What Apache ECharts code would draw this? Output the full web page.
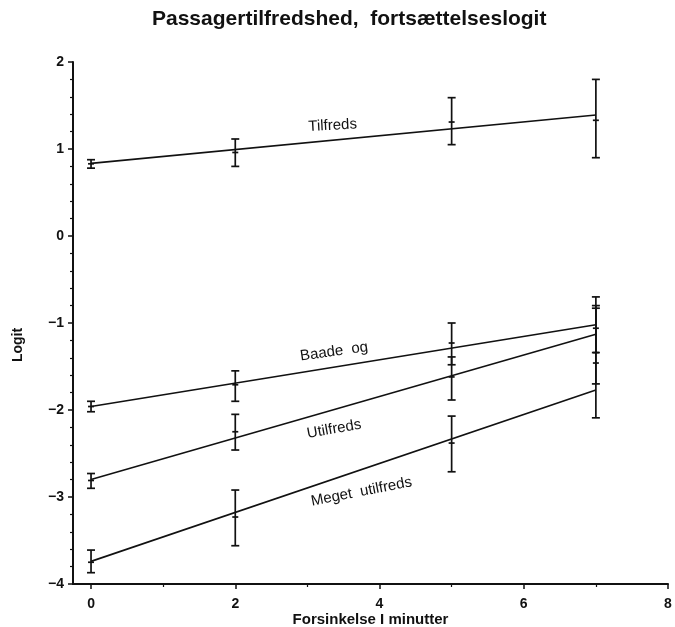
<!DOCTYPE html>
<html>
<head>
<meta charset="utf-8">
<script src="https://cdn.jsdelivr.net/npm/echarts@6/dist/echarts.min.js"></script>
<style>
  html, body { margin: 0; background: #fff; }
  #chart { width: 675px; height: 627px; }
</style>
</head>
<body>
<div id="chart"></div>
<script>
  // forsinkelse (minutter) hvor der er maalt
  const delays = [0, 2, 5, 7]
  const fitX = [0, 7]
  const xTicks = [0, 2, 4, 6, 8]
  const xMinorTicks = [1, 3, 5, 7]

  // observerede logits med konfidensgraenser
  const tilfredsEst = [0.83, 0.96, 1.31, 1.33]
  const tilfredsLow = [0.78, 0.80, 1.05, 0.90]
  const tilfredsHigh = [0.877, 1.115, 1.59, 1.80]

  const baadeEst = [-1.96, -1.71, -1.23, -1.06]
  const baadeLow = [-2.02, -1.90, -1.48, -1.34]
  const baadeHigh = [-1.90, -1.55, -1.00, -0.70]

  const utilfredsEst = [-2.81, -2.25, -1.62, -1.34]
  const utilfredsLow = [-2.90, -2.46, -1.885, -1.70]
  const utilfredsHigh = [-2.73, -2.05, -1.39, -0.80]

  const megetEst = [-3.75, -3.23, -2.38, -1.46]
  const megetLow = [-3.87, -3.56, -2.71, -2.09]
  const megetHigh = [-3.61, -2.92, -2.07, -0.83]

  // fittede linjer, vaerdi ved x = 0 og x = 7
  const tilfredsFit = [0.835, 1.39]
  const baadeFit = [-1.96, -1.02]
  const utilfredsFit = [-2.80, -1.13]
  const megetFit = [-3.74, -1.77]

  const groupNames = ['Tilfreds', 'Baade  og', 'Utilfreds', 'Meget  utilfreds']

  // tekst-placering (x, logit, haeldning i grader)
  const labelX = [3.35, 3.37, 3.37, 3.75]
  const labelY = [1.27, -1.33, -2.22, -2.94]
  const labelTilt = [3, 8, 10, 11]

  const ink = '#111'
  const font = 'Liberation Sans'

  function barRows(est, low, high) {
    return delays.map((d, i) => [d, low[i], high[i], est[i]])
  }

  function renderBar(params, api) {
    const x = api.value(0)
    const lo = api.coord([x, api.value(1)])
    const hi = api.coord([x, api.value(2)])
    const mid = api.coord([x, api.value(3)])
    const s = { stroke: ink, lineWidth: 1.7 }
    return {
      type: 'group',
      children: [
        { type: 'line', shape: { x1: hi[0], y1: hi[1], x2: lo[0], y2: lo[1] }, style: s },
        { type: 'line', shape: { x1: hi[0] - 4, y1: hi[1], x2: hi[0] + 4, y2: hi[1] }, style: s },
        { type: 'line', shape: { x1: lo[0] - 4, y1: lo[1], x2: lo[0] + 4, y2: lo[1] }, style: s },
        { type: 'line', shape: { x1: mid[0] - 3, y1: mid[1], x2: mid[0] + 3, y2: mid[1] }, style: s }
      ]
    }
  }

  function renderLabel(params, api) {
    const p = api.coord([api.value(0), api.value(1)])
    return {
      type: 'text',
      x: p[0],
      y: p[1],
      rotation: api.value(2) * Math.PI / 180,
      style: {
        text: groupNames[params.dataIndex],
        font: '15px "' + font + '"',
        fill: ink,
        align: 'center',
        verticalAlign: 'middle'
      }
    }
  }

  function fitSeries(vals) {
    return {
      type: 'line',
      data: fitX.map((x, i) => [x, vals[i]]),
      symbol: 'none',
      lineStyle: { color: ink, width: 1.6 },
      silent: true
    }
  }

  function barSeries(est, low, high) {
    return {
      type: 'custom',
      renderItem: renderBar,
      data: barRows(est, low, high),
      encode: { x: 0, y: [1, 2] },
      silent: true
    }
  }

  const chart = echarts.init(document.getElementById('chart'))
  chart.setOption({
    backgroundColor: '#fff',
    animation: false,
    title: {
      text: 'Passagertilfredshed,  fortsættelseslogit',
      left: 147,
      top: 4,
      textStyle: { fontFamily: font, fontSize: 21, fontWeight: 'bold', color: ink }
    },
    grid: { left: 73, right: 7, top: 62, bottom: 43, outerBoundsMode: 'none', containLabel: false },
    xAxis: [{
      type: 'value',
      min: -0.25,
      max: 8,
      name: 'Forsinkelse I minutter',
      nameLocation: 'middle',
      nameGap: 28,
      nameMoveOverlap: false,
      nameTextStyle: { fontFamily: font, fontSize: 15, fontWeight: 'bold', color: ink },
      axisLine: { onZero: false, lineStyle: { color: ink, width: 2 } },
      axisTick: { customValues: xTicks, length: 5, lineStyle: { color: ink, width: 1.5 } },
      axisLabel: { customValues: xTicks, margin: 13, fontFamily: font, fontSize: 14, fontWeight: 'bold', color: ink },
      splitLine: { show: false }
    }, {
      type: 'value',
      min: -0.25,
      max: 8,
      position: 'bottom',
      axisLine: { show: false, onZero: false },
      axisTick: { customValues: xMinorTicks, length: 3, lineStyle: { color: ink, width: 1.2 } },
      axisLabel: { show: false },
      splitLine: { show: false }
    }],
    yAxis: {
      type: 'value',
      min: -4,
      max: 2,
      interval: 1,
      name: 'Logit',
      nameLocation: 'middle',
      nameGap: 48,
      nameTextStyle: { fontFamily: font, fontSize: 14, fontWeight: 'bold', color: ink, padding: [0, 44, 0, 0] },
      axisLine: { show: true, onZero: false, lineStyle: { color: ink, width: 2 } },
      axisTick: { show: true, length: 5, lineStyle: { color: ink, width: 1.5 } },
      minorTick: { show: true, splitNumber: 5, length: 3, lineStyle: { color: ink, width: 1.2 } },
      axisLabel: {
        margin: 9,
        fontFamily: font,
        fontSize: 14,
        fontWeight: 'bold',
        color: ink,
        formatter: v => v < 0 ? '\u2212' + (-v) : String(v)
      },
      splitLine: { show: false }
    },
    series: [
      fitSeries(tilfredsFit),
      fitSeries(baadeFit),
      fitSeries(utilfredsFit),
      fitSeries(megetFit),
      barSeries(tilfredsEst, tilfredsLow, tilfredsHigh),
      barSeries(baadeEst, baadeLow, baadeHigh),
      barSeries(utilfredsEst, utilfredsLow, utilfredsHigh),
      barSeries(megetEst, megetLow, megetHigh),
      {
        type: 'custom',
        renderItem: renderLabel,
        data: labelX.map((x, i) => [x, labelY[i], labelTilt[i]]),
        encode: { x: 0, y: 1 },
        silent: true
      }
    ]
  })
</script>
</body>
</html>
